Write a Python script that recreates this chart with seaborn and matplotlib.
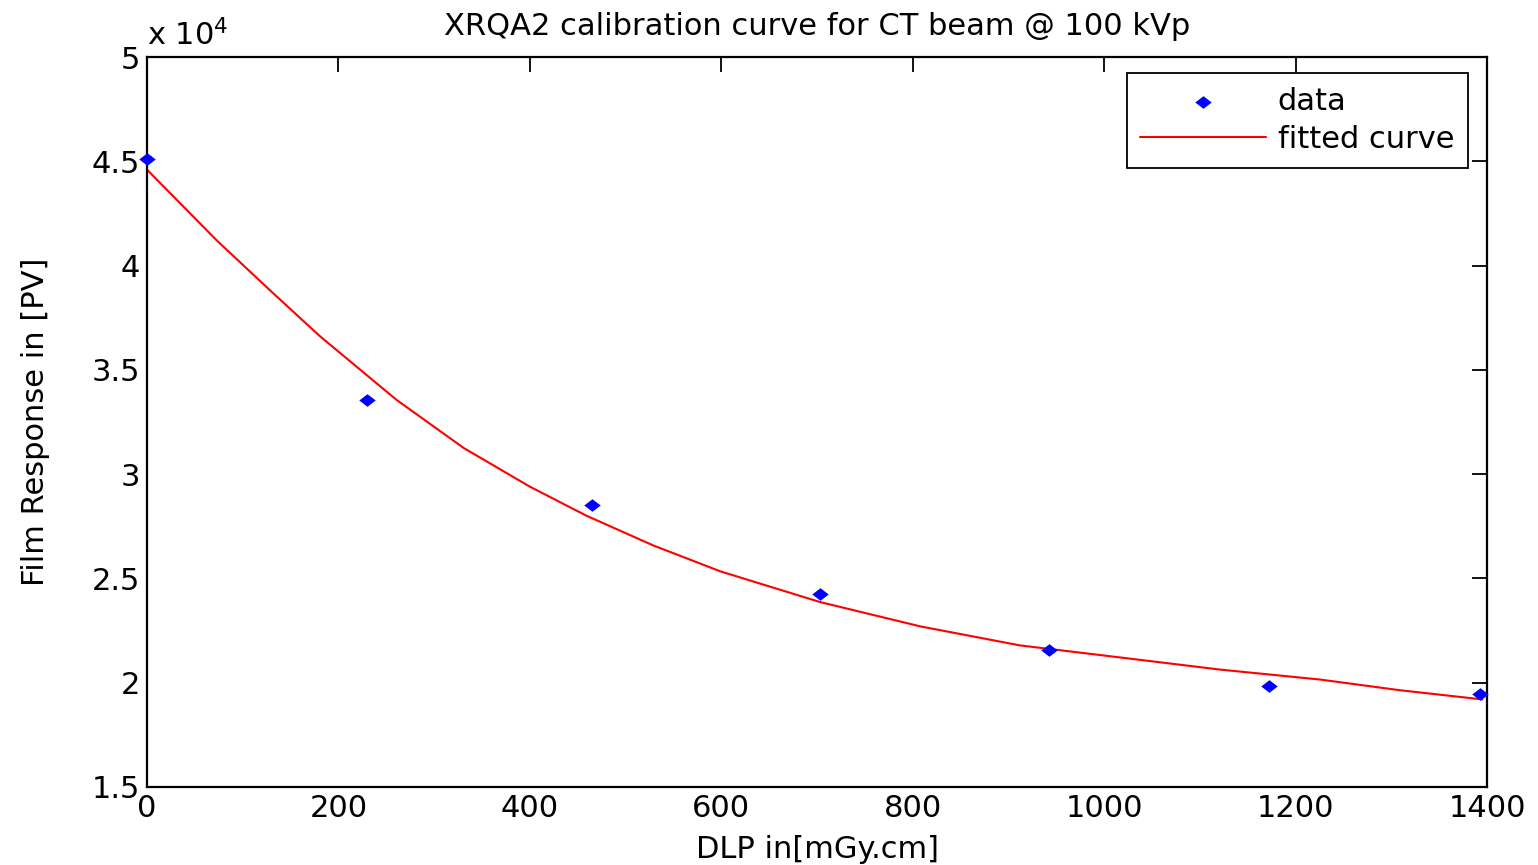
import matplotlib
matplotlib.use("Agg")
import matplotlib.pyplot as plt
import seaborn as sns
import pandas as pd
from matplotlib.ticker import FuncFormatter

# data
dlp_data = [0, 230, 465, 703, 942, 1172, 1393]
pv_data = [45100, 33550, 28540, 24270, 21590, 19850, 19480]

dlp_fit = [0, 73, 130, 181, 261, 331, 400, 459, 529, 599, 703, 808, 912, 1017, 1121, 1226, 1309, 1395]
pv_fit = [44600, 41200, 38750, 36600, 33550, 31250, 29400, 28010, 26580, 25340, 23870, 22700,
          21790, 21210, 20630, 20150, 19640, 19200]

x_ticks = [0, 200, 400, 600, 800, 1000, 1200, 1400]
y_ticks = [15000, 20000, 25000, 30000, 35000, 40000, 45000, 50000]

title = "XRQA2 calibration curve for CT beam @ 100 kVp"
xlabel = "DLP in[mGy.cm]"
ylabel = "Film Response in [PV]"

sns.set_theme(style="white")
plt.rcParams['font.family'] = ['DejaVu Sans']
plt.rcParams['text.color'] = 'black'
plt.rcParams['axes.labelcolor'] = 'black'

FS = 22

fig = plt.figure(figsize=(15.38, 8.65), dpi=100)
ax = fig.add_axes([147/1538, 1-787/865, (1487-147)/1538, (787-57)/865])

df_data = pd.DataFrame({"DLP": dlp_data, "PV": pv_data})
df_fit = pd.DataFrame({"DLP": dlp_fit, "PV": pv_fit})

sns.lineplot(data=df_fit, x="DLP", y="PV", ax=ax, color="#ff0000", linewidth=1.5,
             sort=False, label="fitted curve", zorder=2)
diamond = [(-1.3, 0), (0, 1), (1.3, 0), (0, -1), (-1.3, 0)]
sns.scatterplot(data=df_data, x="DLP", y="PV", ax=ax, color="#0000ff", marker=diamond,
                s=140, linewidth=0, label="data", zorder=3, clip_on=False)

ax.set_xlim(0, 1400)
ax.set_ylim(15000, 50000)
ax.set_xticks(x_ticks)
ax.set_yticks(y_ticks)
ax.yaxis.set_major_formatter(FuncFormatter(lambda v, p: f"{v/1e4:g}"))

ax.tick_params(direction="in", length=11, width=1.3, top=True, right=True,
               labelsize=FS, colors="black", pad=5)
for s in ax.spines.values():
    s.set_color("black")
    s.set_linewidth(1.6)

ax.set_title(title, fontsize=FS, pad=16, color="black")
ax.set_xlabel(xlabel, fontsize=FS, labelpad=9)
ax.set_ylabel(ylabel, fontsize=FS, labelpad=30)
ax.text(0.0, 1.008, "x 10$^4$", transform=ax.transAxes, fontsize=FS, ha="left", va="bottom")

handles, labels = ax.get_legend_handles_labels()
order = [labels.index("data"), labels.index("fitted curve")]
leg = ax.legend([handles[i] for i in order], [labels[i] for i in order],
                loc="upper right", bbox_to_anchor=((1468-147)/1340, 1 - (73-57)/730),
                bbox_transform=ax.transAxes, fontsize=FS, frameon=True, fancybox=False,
                edgecolor="black", framealpha=1, handlelength=4.1, borderpad=0.45,
                labelspacing=0.3, handletextpad=0.4, borderaxespad=0)
leg.get_frame().set_linewidth(1.3)

fig.savefig("out.png", dpi=100, facecolor="white")
